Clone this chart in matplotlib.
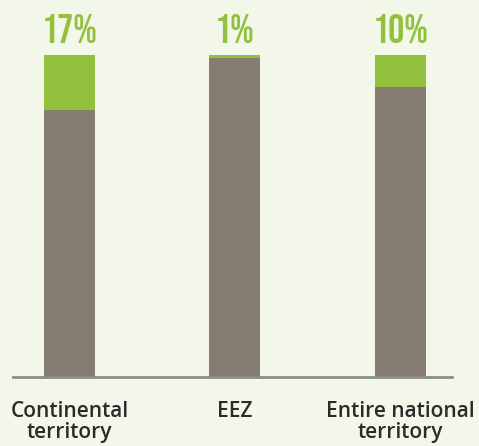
import matplotlib.pyplot as plt
import numpy as np

categories = ['Continental\nterritory', 'EEZ', 'Entire national\nterritory']
protected = [17, 1, 10]
labels = ['17%', '1%', '10%']
rest = [100 - p for p in protected]

bg = '#f3f7e9'
fig = plt.figure(figsize=(4.79, 4.46), dpi=100, facecolor=bg)
ax = fig.add_axes([13 / 479, 69 / 446, 439 / 479, 322 / 446])
ax.set_facecolor(bg)

x = np.arange(len(categories))
ax.bar(x, rest, width=0.308, color='#867c72')
ax.bar(x, protected, bottom=rest, width=0.308, color='#93c13e')

# percentage labels above the bars
for xi, lab in zip(x, labels):
    ax.text(xi, 103.7, lab, ha='center', va='baseline', fontsize=29,
            color='#93c13e', family='Bebas Neue', clip_on=False)

ax.set_xlim(-0.341, 2.311)
ax.set_ylim(0, 100)
ax.set_xticks(x)
ax.set_xticklabels(categories, fontsize=15, family='Open Sans', fontweight='semibold',
                   color='#2b2b2b', linespacing=1.0)
ax.tick_params(axis='x', length=0, pad=17)
ax.set_yticks([])
for s in ['top', 'right', 'left']:
    ax.spines[s].set_visible(False)
ax.spines['bottom'].set_color('#8c8c8c')
ax.spines['bottom'].set_linewidth(2)

fig.savefig('out.png', dpi=100, facecolor=bg)
